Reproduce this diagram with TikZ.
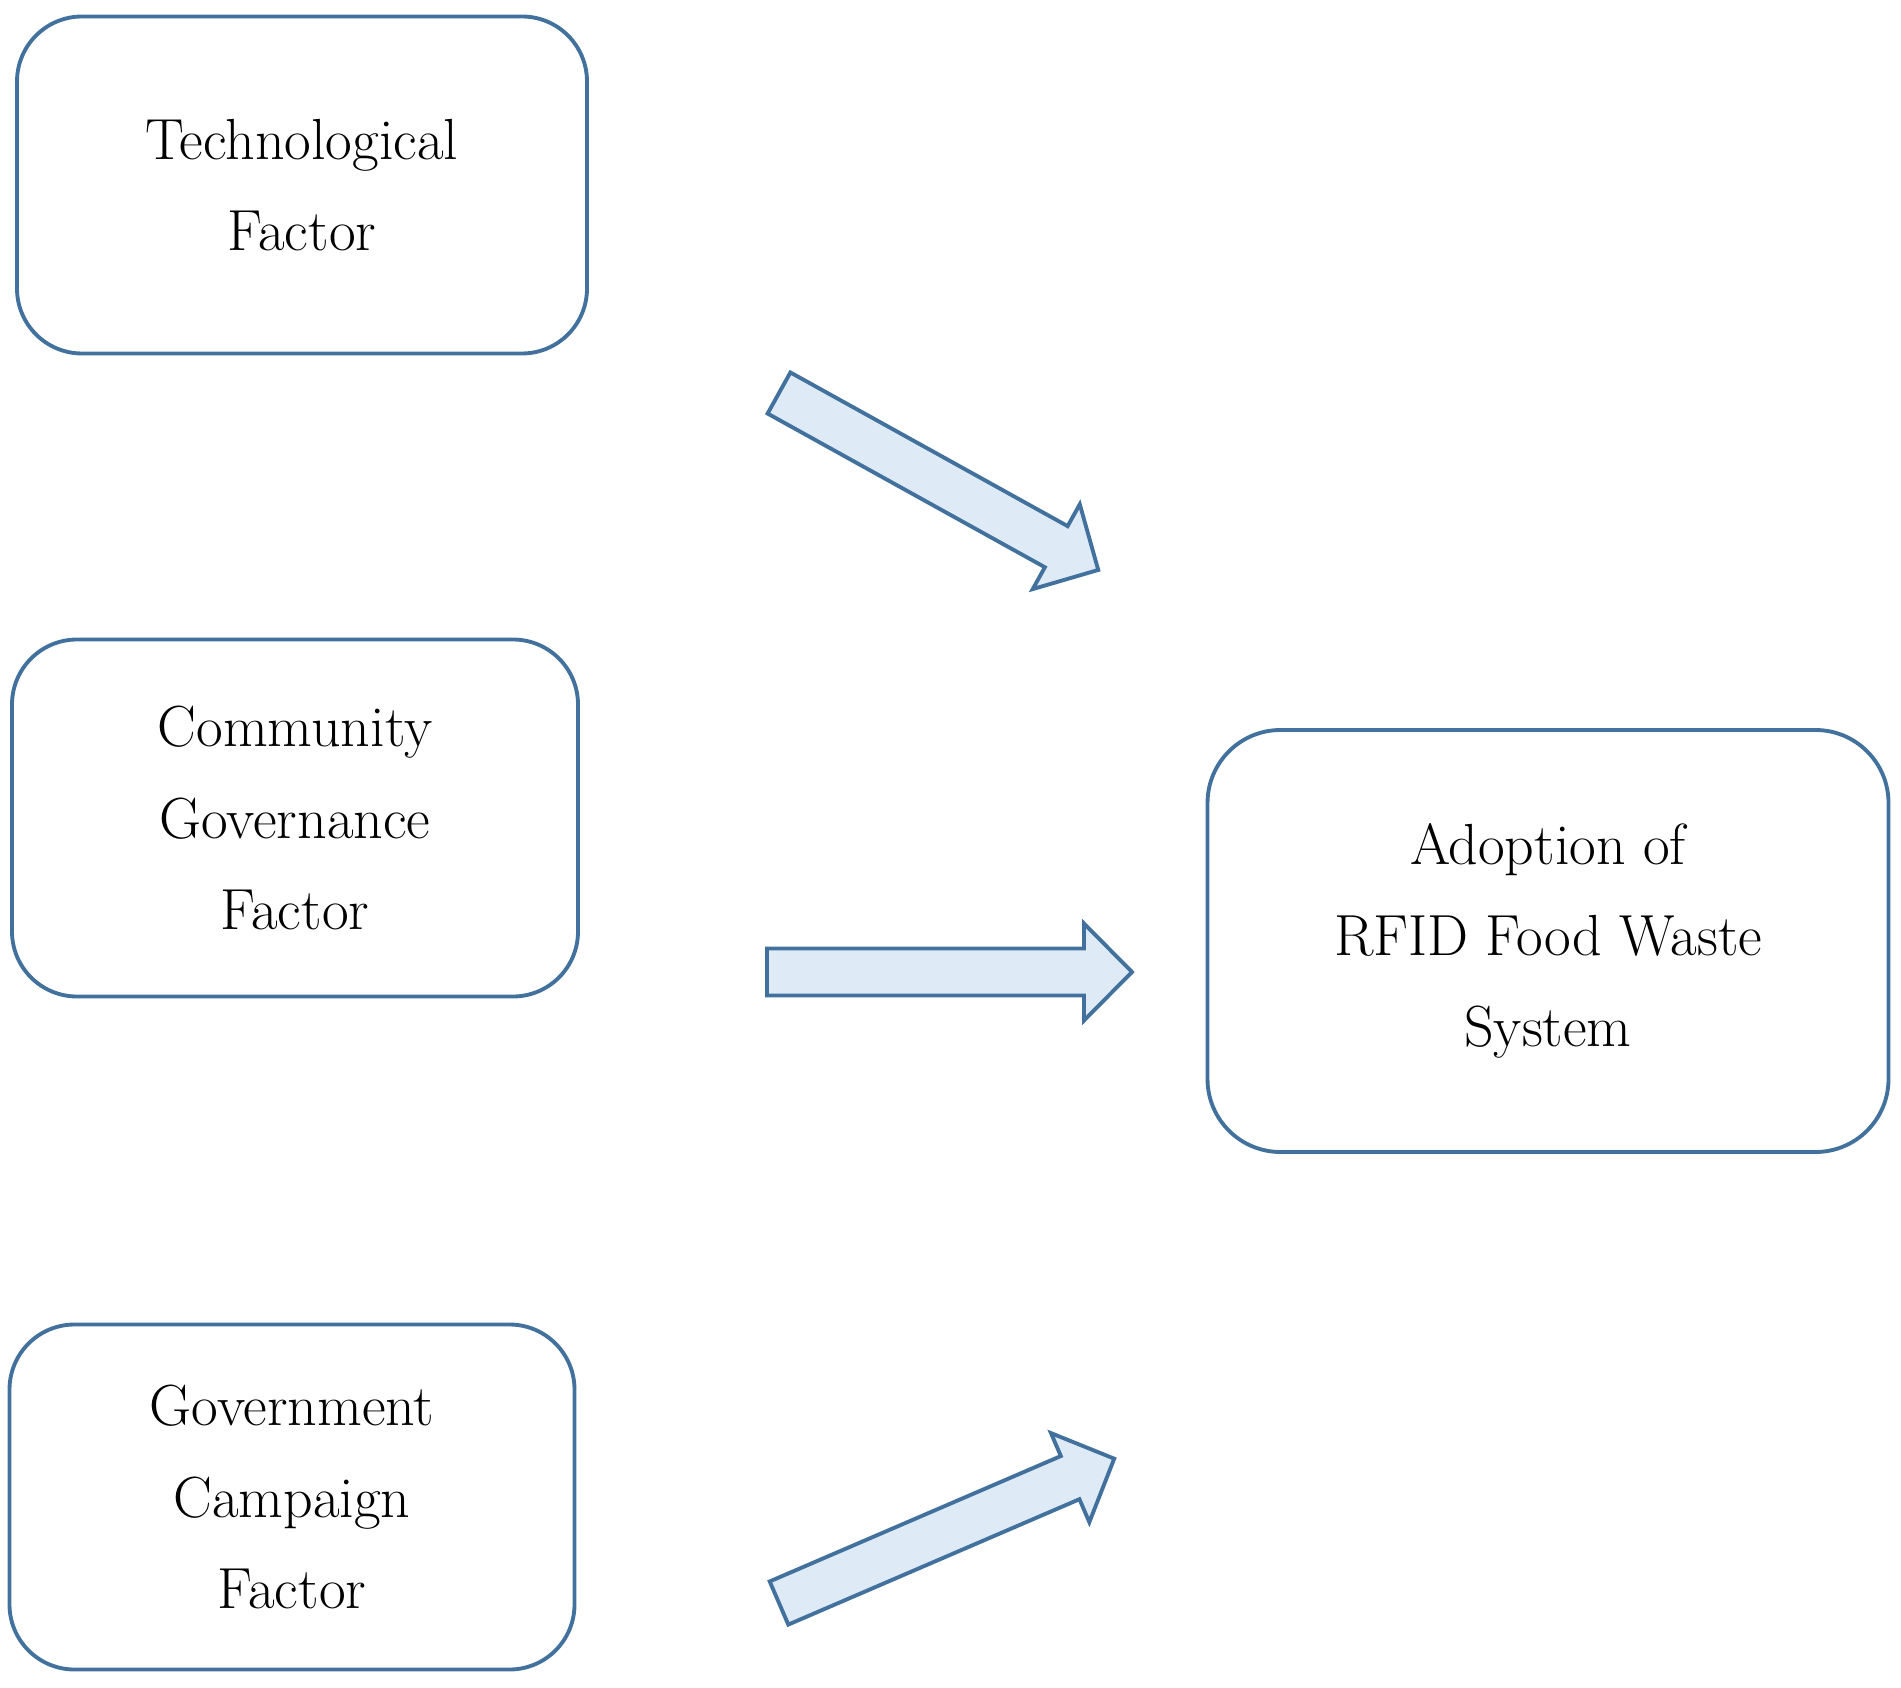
\documentclass[tikz,border=0pt]{standalone}
\usetikzlibrary{positioning}
\definecolor{boxblue}{RGB}{65,113,156}
\definecolor{arrowfill}{RGB}{222,235,247}
\tikzset{
  factorbox/.style={draw=boxblue, line width=1.1pt, rounded corners=6.5mm, align=center,
    inner sep=0pt, font=\fontsize{16.5}{26}\selectfont},
  blockarrow/.pic={
    \draw[draw=boxblue, fill=arrowfill, line width=1.1pt, line join=miter]
      (0,23.5) -- (317,23.5) -- (317,48.5) -- (365,0) -- (317,-48.5) -- (317,-23.5) -- (0,-23.5) -- cycle;
  }
}
\begin{document}
\begin{tikzpicture}[x=0.1mm, y=-0.1mm]
  \useasboundingbox (0,0) rectangle (1901,1688);

  % Factor boxes on the left
  \node[factorbox, minimum width=57mm, minimum height=33.7mm] (tech) at (302,185) {Technological\\Factor};
  \node[factorbox, minimum width=56.6mm, minimum height=35.7mm] (comm) at (295,818) {Community\\Governance\\Factor};
  \node[factorbox, minimum width=56.5mm, minimum height=34.5mm] (gov) at (292,1497) {Government\\Campaign\\Factor};

  % Outcome box
  \node[factorbox, minimum width=68.1mm, minimum height=42.2mm, rounded corners=7.3mm] (adopt) at (1548,941) {Adoption of\\RFID Food Waste\\System};

  % Block arrows
  \pic[rotate=-29] at (779,393) {blockarrow};
  \pic at (767,972) {blockarrow};
  \pic[rotate=23.3] at (779,1603) {blockarrow};
\end{tikzpicture}
\end{document}
